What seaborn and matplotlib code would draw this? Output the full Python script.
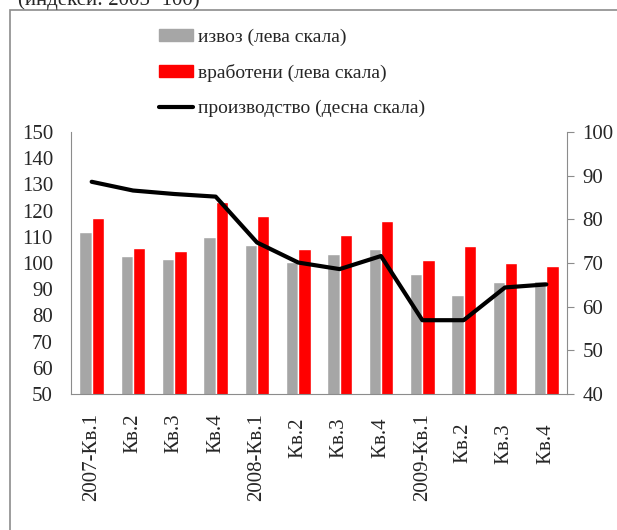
import matplotlib
matplotlib.use("Agg")
import matplotlib.pyplot as plt
from matplotlib.patches import Rectangle, Patch
from matplotlib.lines import Line2D
import numpy as np
import pandas as pd
import seaborn as sns

quarters = ["2007-Кв.1", "Кв.2", "Кв.3", "Кв.4",
            "2008-Кв.1", "Кв.2 ", "Кв.3 ", "Кв.4 ",
            "2009-Кв.1", "Кв.2  ", "Кв.3  ", "Кв.4  "]
izvoz = [111.7, 102.8, 101.7, 109.9, 107.0, 100.3, 103.4, 105.2, 95.7, 87.9, 92.6, 93.3]
vraboteni = [117.1, 105.7, 104.6, 123.2, 117.8, 105.2, 110.6, 116.0, 101.0, 106.4, 99.9, 98.7]
proizvodstvo = [88.6, 86.6, 85.8, 85.2, 74.7, 70.1, 68.6, 71.6, 56.9, 56.9, 64.4, 65.1]

lbl_izvoz = "извоз (лева скала)"
lbl_vrab = "вработени (лева скала)"
lbl_proiz = "производство (десна скала)"

sns.set_style("white")
plt.rcParams["font.family"] = ["Liberation Serif", "DejaVu Serif"]

df = pd.DataFrame({
    "q": quarters * 2,
    "val": izvoz + vraboteni,
    "series": [lbl_izvoz] * 12 + [lbl_vrab] * 12,
})

fig = plt.figure(figsize=(6.17, 5.30), dpi=100)
ax = fig.add_axes([71 / 617, 1 - 394 / 530, 496 / 617, 262 / 530])

sns.barplot(data=df, x="q", y="val", hue="series", order=quarters,
            palette=["#a6a6a6", "#ff0000"], width=0.6, gap=0,
            saturation=1, legend=False, ax=ax)
ax.set_ylim(50, 150)
ax.set_xlim(-0.5, 11.5)
ax.set_yticks(range(50, 151, 10))
ax.set_xlabel("")
ax.set_ylabel("")
ax.tick_params(axis="y", labelsize=15, length=0, pad=13)
ax.tick_params(axis="x", labelsize=15, rotation=90, length=0, pad=14)
for s in ["top", "right"]:
    ax.spines[s].set_visible(False)
for s in ["left", "bottom"]:
    ax.spines[s].set_color("#8c8c8c")

ax2 = ax.twinx()
sns.lineplot(x=np.arange(12), y=proizvodstvo, color="black", linewidth=3, ax=ax2)
ax2.set_ylim(40, 100)
ax2.set_yticks(range(40, 101, 10))
ax2.tick_params(axis="y", labelsize=15, length=5, color="#8c8c8c", direction="out", pad=6)
for s in ["top", "left", "bottom"]:
    ax2.spines[s].set_visible(False)
ax2.spines["right"].set_color("#8c8c8c")

handles = [Patch(color="#a6a6a6"), Patch(color="#ff0000"),
           Line2D([0], [0], color="black", linewidth=3)]
fig.legend(handles, [lbl_izvoz, lbl_vrab, lbl_proiz], loc="upper left",
           bbox_to_anchor=(141 / 617, 1 - 11 / 530), frameon=False, fontsize=14,
           handlelength=1.75, handleheight=0.55, labelspacing=0.93, handletextpad=0.3)

fig.patches.append(Rectangle((10 / 617, -0.1), 1.0, 1 - 10 / 530 + 0.1,
                             transform=fig.transFigure, fill=False,
                             edgecolor="#8c8c8c", linewidth=1.2))
fig.text(18 / 617, 1.0, "(индекси: 2005=100)", fontsize=15, va="center", ha="left")

fig.savefig("out.png", dpi=100)
